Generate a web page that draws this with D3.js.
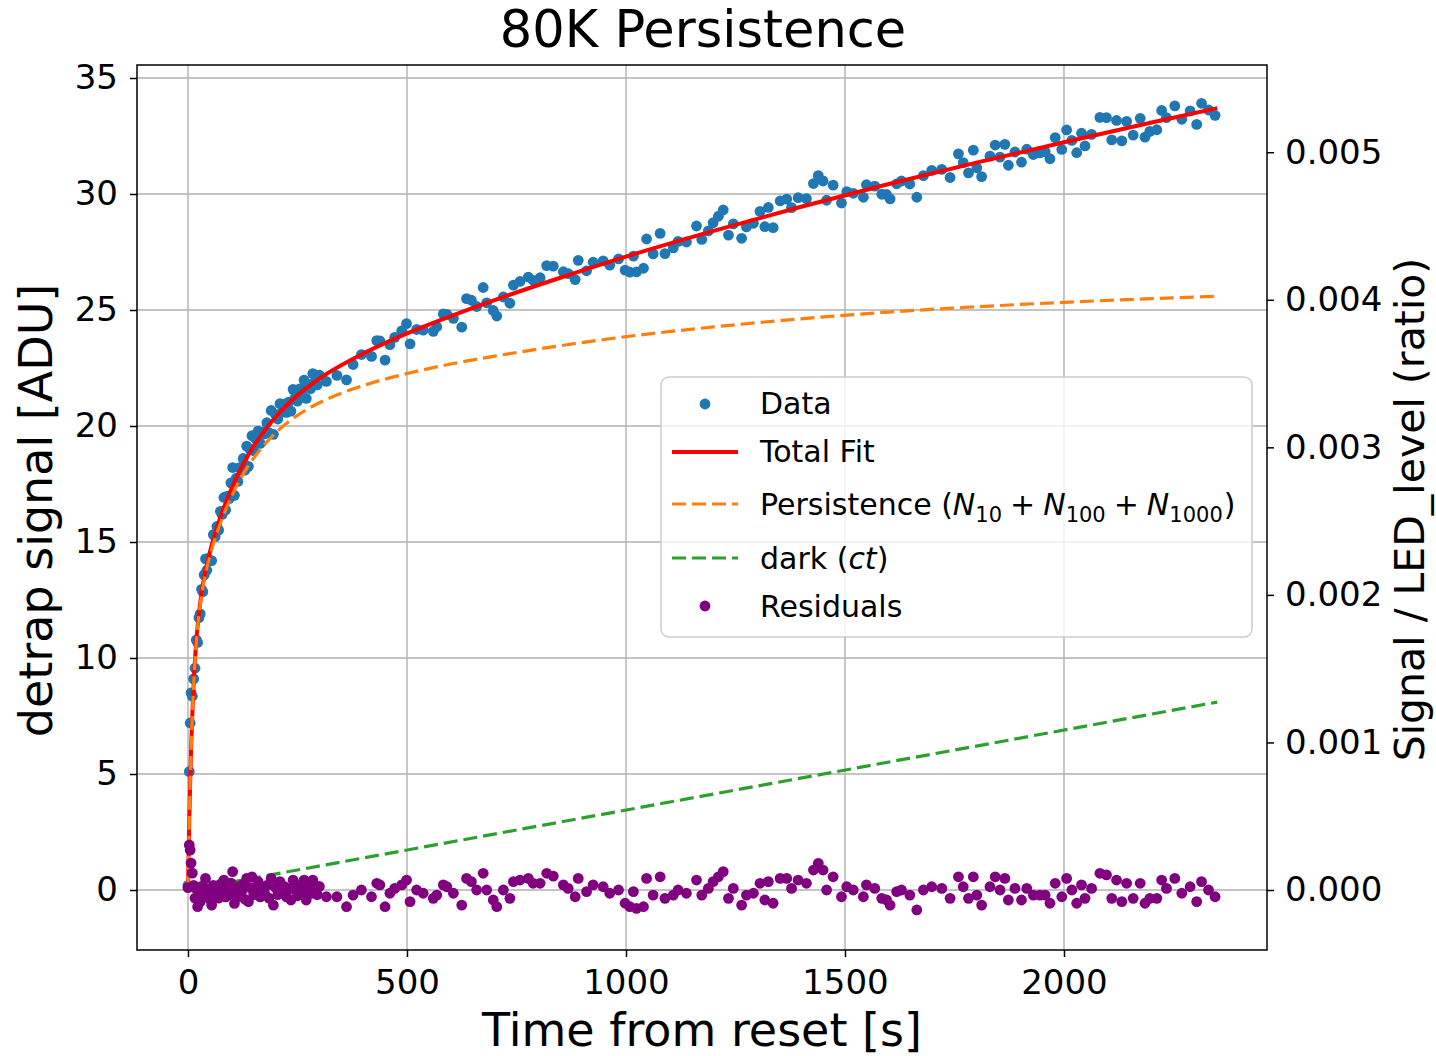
<!DOCTYPE html>
<html><head><meta charset="utf-8">
<script src="https://cdn.jsdelivr.net/npm/d3@7"></script>
<style>body{margin:0;background:#fff} text{font-family:"DejaVu Sans",sans-serif;fill:#000}</style>
</head><body><svg id="c" width="1436" height="1056"></svg>
<script>
// ---------- data ----------
const times = [0,3,5,7,10,13,16,19,22,25,28,31,34,37,40,43,46,50,54,58,62,66,70,74,78,82,86,90,94,98,102,106,110,114,118,122,126,130,134,138,142,146,150,155,160,165,170,175,180,185,190,195,200,205,210,215,220,225,230,235,240,245,250,255,260,265,270,275,280,285,290,295,300,
316,340,362,377,396,419,431,438,450,461,472,488,499,507,522,537,560,568,583,591,606,625,636,647,659,674,682,697,705,720,735,743,758,777,788,804,819,834,
857,868,884,891,910,925,948,963,983,998,1009,1017,1024,1040,1047,1062,1078,1089,1108,1119,1138,1161,1173,1188,1199,1211,1222,1234,1245,1264,1275,1291,1306,1317,1325,1336,1352,1367,1378,1393,1412,1428,1439,1450,1458,1473,1492,1504,1519,1542,1549,1568,1584,1595,1603,1618,
1629,1648,1664,1679,1698,1721,1740,1759,1770,1782,1793,1801,1812,1831,1843,1854,1865,1873,1888,1903,1915,1930,1945,1957,1968,1980,1995,2006,2018,2029,2040,2048,2063,2082,2097,2109,2120,2132,2143,2158,2174,2185,2196,2212,2223,2234,2253,2269,2288,2303,2314,2330,2345];

const signal = [0.2,5.1,7.2,8.5,8.35,9.10,9.56,10.78,10.67,11.74,11.90,12.96,12.86,13.58,14.27,13.78,14.28,
14.18,14.20,15.32,15.23,15.67,15.51,16.32,16.19,16.92,16.38,16.98,16.87,17.55,18.21,17.01,17.75,17.61,18.21,18.11,18.60,18.10,19.13,18.26,18.99,19.58,
18.94,19.43,19.78,19.25,19.74,19.66,20.14,19.71,20.67,19.64,20.49,20.30,20.96,20.60,20.94,20.59,21.03,20.64,21.58,21.24,21.07,21.60,21.37,21.98,21.19,21.79,21.61,22.26,21.90,21.77,22.19,
21.92,22.18,21.99,22.65,23.08,23.00,23.68,23.67,22.84,23.51,23.82,24.10,24.41,23.54,24.16,24.13,24.08,24.28,24.83,24.81,24.64,24.26,25.49,25.42,25.15,25.97,25.31,24.98,24.74,25.56,25.29,26.07,26.23,26.42,26.28,26.39,26.91,26.89,
26.65,26.57,26.31,27.14,26.69,27.06,27.12,26.93,27.20,26.72,26.63,27.32,26.64,26.80,28.06,27.42,28.30,27.43,27.68,27.96,27.93,28.62,28.04,28.41,28.76,29.04,29.31,28.23,28.71,28.09,28.58,28.74,29.25,28.59,29.42,28.55,29.70,29.78,29.41,29.84,29.80,30.45,30.79,30.56,29.73,30.38,29.61,30.10,30.03,29.86,30.40,30.34,29.99,29.98,29.79,30.44,
30.56,30.43,29.86,30.79,31.02,31.06,30.71,31.73,31.35,30.91,31.89,31.13,30.75,31.63,32.11,31.59,32.14,31.24,31.81,31.37,31.93,31.70,31.77,31.82,31.52,32.43,31.92,32.76,32.31,31.78,32.62,32.07,32.57,33.30,33.29,32.33,33.17,32.29,33.13,32.54,33.26,32.45,32.70,32.77,33.60,33.29,33.80,33.22,33.58,33.00,33.91,33.62,33.39];

const residuals = [0.10,1.94,1.72,1.16,0.73,0.20,-0.35,0.05,-0.72,-0.20,-0.50,0.15,-0.30,0.10,0.50,-0.25,0.00,
-0.40,-0.65,0.20,-0.15,0.05,-0.35,0.25,-0.10,0.43,-0.30,0.10,-0.20,0.30,0.79,-0.58,0.00,-0.30,0.15,-0.10,0.25,-0.40,0.50,-0.50,0.10,0.57,
-0.20,0.15,0.36,-0.30,0.05,-0.15,0.20,-0.35,0.50,-0.65,0.10,-0.20,0.36,-0.10,0.15,-0.30,0.05,-0.43,0.43,0.00,-0.25,0.20,-0.10,0.43,-0.43,0.10,-0.15,0.43,0.00,-0.20,0.15,
-0.29,-0.29,-0.72,-0.22,0.0,-0.29,0.29,0.22,-0.72,-0.14,0.07,0.22,0.43,-0.50,0.0,-0.14,-0.36,-0.22,0.22,0.14,-0.14,-0.65,0.50,0.36,0.0,0.72,0.0,-0.43,-0.72,0.0,-0.36,0.36,0.43,0.50,0.29,0.29,0.72,0.60,
0.22,0.07,-0.29,0.50,-0.07,0.22,0.14,-0.14,0.0,-0.57,-0.72,-0.07,-0.79,-0.72,0.50,-0.22,0.57,-0.36,-0.22,0.0,-0.14,0.43,-0.22,0.07,0.36,0.57,0.79,-0.36,0.07,-0.65,-0.22,-0.14,0.29,-0.43,0.36,-0.57,0.50,0.50,0.07,0.43,0.29,0.86,1.15,0.86,0.0,0.57,-0.29,0.14,0.0,-0.29,0.22,0.07,-0.36,-0.43,-0.65,-0.07,
0.0,-0.22,-0.86,0.0,0.14,0.07,-0.36,0.57,0.14,-0.36,0.57,-0.22,-0.65,0.14,0.57,0.0,0.50,-0.43,0.07,-0.43,0.07,-0.22,-0.22,-0.22,-0.57,0.29,-0.29,0.50,0.0,-0.57,0.22,-0.36,0.07,0.72,0.65,-0.36,0.43,-0.50,0.29,-0.36,0.29,-0.57,-0.36,-0.36,0.43,0.07,0.50,-0.14,0.14,-0.50,0.36,0.0,-0.29];

const fitTimes   = [0,1,2,3,5,7,10,15,20,30,40,50,60,75,100,125,150,200,250,300,400,500,600,700,850,1000,1200,1400,1600,1800,2000,2200,2350];
const fitTotal   = [0,1.10,2.11,3.02,4.63,5.99,7.62,9.60,10.97,12.68,13.77,14.57,15.25,16.13,17.33,18.32,19.13,20.39,21.32,22.04,23.12,23.99,24.74,25.43,26.39,27.30,28.41,29.45,30.43,31.35,32.23,33.08,33.70];
const fitPersist = [0,1.10,2.10,3.01,4.62,5.96,7.59,9.55,10.90,12.58,13.63,14.40,15.04,15.87,16.99,17.89,18.61,19.70,20.46,21.00,21.74,22.26,22.67,23.01,23.46,23.85,24.27,24.62,24.91,25.14,25.33,25.49,25.59];
const darkTimes  = [0,2350];
const darkVals   = [0,8.1];

const xTicks = [0,500,1000,1500,2000];
const yTicks = [0,5,10,15,20,25,30,35];
const y2Ticks = [0,0.001,0.002,0.003,0.004,0.005];
const LED_LEVEL = 6360;

// ---------- layout ----------
const L=137,R=1267,T=65,B=950;
const svg = d3.select("#c");
const x = d3.scaleLinear().domain([-116.4,2463.5]).range([L,R]);
const y = d3.scaleLinear().domain([-2.586,35.56]).range([B,T]);
const y2 = d3.scaleLinear().domain([-2.586/LED_LEVEL,35.56/LED_LEVEL]).range([B,T]);

// grid
const g = svg.append("g");
g.selectAll(".gx").data(xTicks).enter().append("line")
  .attr("x1",d=>x(d)).attr("x2",d=>x(d)).attr("y1",T).attr("y2",B)
  .attr("stroke","#b0b0b0").attr("stroke-width",1.4);
g.selectAll(".gy").data(yTicks).enter().append("line")
  .attr("y1",d=>y(d)).attr("y2",d=>y(d)).attr("x1",L).attr("x2",R)
  .attr("stroke","#b0b0b0").attr("stroke-width",1.4);

const pts = d3.range(Math.min(times.length, signal.length, residuals.length));
const DASH = "14,6";

// data
svg.append("g").selectAll("circle").data(pts).enter().append("circle")
  .attr("cx",i=>x(times[i])).attr("cy",i=>y(signal[i])).attr("r",5.4)
  .attr("fill","#1f77b4");

const line = d3.line().curve(d3.curveMonotoneX);
svg.append("path").attr("d", line(fitTimes.map((t,i)=>[x(t),y(fitTotal[i])])))
  .attr("fill","none").attr("stroke","#ff0000").attr("stroke-width",4);
svg.append("path").attr("d", line(fitTimes.map((t,i)=>[x(t),y(fitPersist[i])])))
  .attr("fill","none").attr("stroke","#ff7f0e").attr("stroke-width",3.2).attr("stroke-dasharray",DASH);
svg.append("path").attr("d", line(darkTimes.map((t,i)=>[x(t),y(darkVals[i])])))
  .attr("fill","none").attr("stroke","#2ca02c").attr("stroke-width",3.2).attr("stroke-dasharray",DASH);

// residuals
svg.append("g").selectAll("circle").data(pts).enter().append("circle")
  .attr("cx",i=>x(times[i])).attr("cy",i=>y(residuals[i])).attr("r",5.4)
  .attr("fill","#800080");

// frame
svg.append("rect").attr("x",L).attr("y",T).attr("width",R-L).attr("height",B-T)
  .attr("fill","none").attr("stroke","#000").attr("stroke-width",1.5);

// axes
function styleAxis(sel){
  sel.select(".domain").remove();
  sel.selectAll(".tick line").attr("stroke","#000").attr("stroke-width",1.5);
  sel.selectAll(".tick text").attr("font-size",34).attr("font-family","DejaVu Sans").attr("fill","#000");
}
svg.append("g").attr("transform",`translate(0,${B})`)
  .call(d3.axisBottom(x).tickValues(xTicks).tickSize(7).tickPadding(13).tickFormat(d3.format("d"))).call(styleAxis);
svg.append("g").attr("transform",`translate(${L},0)`)
  .call(d3.axisLeft(y).tickValues(yTicks).tickSize(7).tickPadding(12).tickFormat(d3.format("d"))).call(styleAxis);
svg.append("g").attr("transform",`translate(${R},0)`)
  .call(d3.axisRight(y2).tickValues(y2Ticks).tickSize(7).tickPadding(11).tickFormat(d3.format(".3f"))).call(styleAxis);

// titles
const cx=(L+R)/2, cy=(T+B)/2;
svg.append("text").attr("x",cx+1).attr("y",47).attr("text-anchor","middle").attr("font-size",51).text("80K Persistence");
svg.append("text").attr("x",cx).attr("y",1046).attr("text-anchor","middle").attr("font-size",46).text("Time from reset [s]");
svg.append("text").attr("transform",`translate(52,${cy+3}) rotate(-90)`).attr("text-anchor","middle").attr("font-size",46).text("detrap signal [ADU]");
svg.append("text").attr("transform",`translate(1424,${cy+2}) rotate(-90)`).attr("text-anchor","middle").attr("font-size",41).text("Signal / LED_level (ratio)");

// legend
const lg = svg.append("g");
lg.append("rect").attr("x",661).attr("y",377).attr("width",591).attr("height",260).attr("rx",8)
  .attr("fill","rgba(255,255,255,0.8)").attr("stroke","#cccccc").attr("stroke-width",1.5);
const lx0=672, lx1=738, tx=760;
lg.append("circle").attr("cx",705).attr("cy",404).attr("r",5.4).attr("fill","#1f77b4");
lg.append("text").attr("x",tx).attr("y",414).attr("font-size",30).text("Data");
lg.append("line").attr("x1",lx0).attr("x2",lx1).attr("y1",452).attr("y2",452).attr("stroke","#ff0000").attr("stroke-width",4);
lg.append("text").attr("x",tx).attr("y",462).attr("font-size",30).text("Total Fit");
lg.append("line").attr("x1",lx0).attr("x2",lx1).attr("y1",504).attr("y2",504).attr("stroke","#ff7f0e").attr("stroke-width",3.2).attr("stroke-dasharray",DASH);
const pt = lg.append("text").attr("x",tx).attr("y",515).attr("font-size",30);
pt.append("tspan").text("Persistence (");
const subs=["10","100","1000"];
subs.forEach((s,i)=>{
  pt.append("tspan").attr("font-style","italic").attr("dx", i===0?0:8).text("N");
  pt.append("tspan").attr("font-size",21).attr("dy",7).text(s);
  if(i<2){ pt.append("tspan").attr("dy",-7).attr("dx",8).text("+"); }
  else { pt.append("tspan").attr("dy",-7).attr("dx",1).text(")"); }
});
lg.append("line").attr("x1",lx0).attr("x2",lx1).attr("y1",558).attr("y2",558).attr("stroke","#2ca02c").attr("stroke-width",3.2).attr("stroke-dasharray",DASH);
const dt = lg.append("text").attr("x",tx).attr("y",569).attr("font-size",30);
dt.append("tspan").text("dark (");
dt.append("tspan").attr("font-style","italic").text("ct");
dt.append("tspan").text(")");
lg.append("circle").attr("cx",705).attr("cy",606).attr("r",5.4).attr("fill","#800080");
lg.append("text").attr("x",tx).attr("y",617).attr("font-size",30).text("Residuals");
</script></body></html>
